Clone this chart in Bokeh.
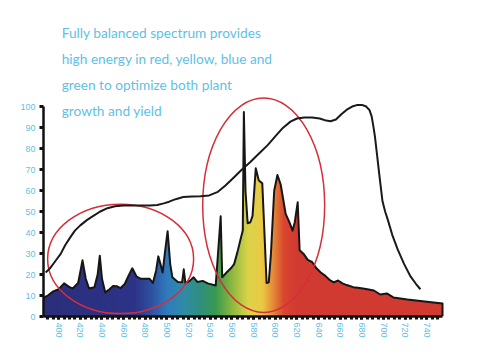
import numpy as np
from bokeh.plotting import figure
from bokeh.models import Range1d, Label, SingleIntervalTicker, FixedTicker
from bokeh.embed import file_html
from bokeh.resources import INLINE

# ---- data ----
spec_x = [386, 390, 395, 400, 405, 410, 413, 418, 422, 425, 428, 433, 436, 438, 440, 443,
          447, 450, 454, 457, 461, 465, 468, 472, 476, 480, 484, 487, 490, 492, 494, 496,
          498, 500.6, 503, 505, 510, 514, 515.5, 517, 521, 524.6, 528, 533, 537.6, 545,
          549.6, 551, 555, 559, 562, 565, 568, 570, 571, 572.5, 574.5, 577, 579, 582,
          584.7, 587, 588, 590, 592, 594, 596, 599, 602, 605, 609.6, 613, 616, 618, 620.7,
          622.5, 626, 630, 634, 638, 642, 646, 650, 654, 658, 662, 666, 672, 678, 685,
          691, 697, 703, 709, 722, 740, 754.4]
spec_y = [9, 10, 12, 13, 15.8, 14, 13.4, 16, 26.8, 18, 13.4, 14, 20, 29, 18, 11.5,
          13, 14.5, 14.4, 13.5, 15.5, 20, 23, 19, 18, 18, 18, 16, 22, 28.7, 25, 21,
          30, 40.7, 25, 18.7, 16.5, 16.3, 22.5, 16, 17, 18.7, 16.5, 17, 15.8, 14.8,
          47.8, 18.7, 21, 23, 25, 30.6, 37, 41, 97.6, 60, 44.5, 45, 48, 70.8,
          65, 64, 63.6, 40, 16, 16.3, 30, 60, 67.5, 63, 49, 45, 41, 45, 54.5,
          31.6, 30, 27, 26, 23, 21, 19.5, 17.5, 16.3, 17.2, 15.8, 15, 14, 13.6, 13,
          12.4, 10.5, 11, 9.1, 8.1, 7, 6.2]

resp_x = [388, 392, 397, 402, 406, 411, 415, 420, 426, 432, 438, 445, 452, 460, 468,
          476, 484, 491, 497, 502, 508, 515, 523, 531, 539, 547, 554, 561, 569, 577,
          585, 593, 600, 607, 614, 620, 627, 634, 641, 647, 651, 656, 661, 666, 671,
          676, 680, 684, 687, 689, 690.5, 692, 694, 696, 699, 701.5, 704, 708, 713,
          719, 725, 730, 734]
resp_y = [21, 23, 26.5, 30, 34, 38, 41, 43.5, 46, 48, 50, 51.7, 52.6, 53, 53,
          53, 53, 53.2, 54, 54.8, 56, 57, 57.3, 57.4, 57.8, 59.5, 62.5, 66, 70, 73.7,
          77.8, 81.8, 86, 90, 93, 94.5, 95, 95, 94.5, 93.5, 93.2, 94, 96.5, 98.7, 100.2,
          101, 101, 100.2, 98.5, 95.5, 91, 86, 77, 68, 55, 50, 46, 39, 32,
          25, 19, 15.5, 13]

# highlighted regions (ellipses): centre x, centre y, width (nm), height
ell_x = [457.2, 589.3]
ell_y = [27.5, 53.1]
ell_w = [134.8, 112.6]
ell_h = [52.2, 102.4]

caption = ["Fully balanced spectrum provides",
           "high energy in red, yellow, blue and",
           "green to optimize both plant",
           "growth and yield"]

y_ticks = [0, 10, 20, 30, 40, 50, 60, 70, 80, 90, 100]

# ---- styling ----
BLUE_TXT = "#5fbfe6"
grad_stops = [(386, "#2a2e7c"), (470, "#2d3387"), (485, "#2f4f9f"), (500, "#2f7cbe"),
              (515, "#2f8ca8"), (530, "#2f8f80"), (545, "#3a9a52"), (560, "#8cb83e"),
              (575, "#dcd44a"), (588, "#ecca44"), (598, "#e58a38"), (608, "#d9472f"),
              (620, "#d23a31"), (760, "#d03a32")]

X0, XB = 386, 754.4          # data start / end of the axis
PXPERNM = 399 / (XB - X0)
FW = 404
X1 = X0 + FW / PXPERNM       # frame extends slightly past the spectrum
p = figure(frame_width=FW, frame_height=308,
           x_range=Range1d(X0, X1), y_range=Range1d(0, 147),
           output_backend="svg", toolbar_location=None,
           min_border_left=43, min_border_right=11, min_border_top=8, min_border_bottom=32)
p.outline_line_color = None
p.grid.visible = False
p.background_fill_color = "white"
p.border_fill_color = "white"

# gradient image
W, H = 1480, 4
wl = np.linspace(X0, XB, W)
sx = [s[0] for s in grad_stops]
def hexrgb(h):
    return int(h[1:3], 16), int(h[3:5], 16), int(h[5:7], 16)
rs = [hexrgb(s[1])[0] for s in grad_stops]
gs = [hexrgb(s[1])[1] for s in grad_stops]
bs = [hexrgb(s[1])[2] for s in grad_stops]
img = np.empty((H, W), dtype=np.uint32)
view = img.view(dtype=np.uint8).reshape((H, W, 4))
view[:, :, 0] = np.interp(wl, sx, rs).astype(np.uint8)[None, :]
view[:, :, 1] = np.interp(wl, sx, gs).astype(np.uint8)[None, :]
view[:, :, 2] = np.interp(wl, sx, bs).astype(np.uint8)[None, :]
view[:, :, 3] = 255
p.image_rgba(image=[img], x=X0, y=0, dw=XB - X0, dh=100)

# white mask above spectrum (extended a little past both ends)
mask_x = [X0 - 5] + spec_x + [spec_x[-1] + 0.01, X1 + 5]
mask_y = [spec_y[0]] + spec_y + [0, 0]
p.varea(x=mask_x, y1=mask_y, y2=100.5, fill_color="white")

# spectrum outline
p.line(x=spec_x + [spec_x[-1]], y=spec_y + [0], line_color="#161616", line_width=2,
       line_join="round")

# ellipses
p.ellipse(x=ell_x, y=ell_y, width=ell_w, height=ell_h, fill_color=None,
          line_color="#d42f3a", line_width=1.5)

# response curve
p.line(x=resp_x, y=resp_y, line_color="#1a1a1a", line_width=2, line_join="round")

# caption
base_y = [135.7, 123.3, 110.8, 98.4]
for t, yy in zip(caption, base_y):
    p.add_layout(Label(x=402.8, y=yy, text=t, text_font="Lato", text_font_size="13.7px",
                       text_color=BLUE_TXT, text_baseline="alphabetic"))

# axes
xa = p.xaxis[0]
xa.ticker = SingleIntervalTicker(interval=20, num_minor_ticks=4)
xa.bounds = (X0, XB)
xa.axis_line_width = 2.5
xa.axis_line_color = "#111111"
xa.major_tick_in = 0
xa.major_tick_out = 3
xa.minor_tick_in = 0
xa.minor_tick_out = 3
xa.major_tick_line_width = 3
xa.minor_tick_line_width = 3
xa.major_tick_line_color = "#111111"
xa.minor_tick_line_color = "#111111"
xa.major_label_orientation = "vertical"
xa.major_label_text_color = BLUE_TXT
xa.major_label_text_font = "Liberation Sans"
xa.major_label_text_font_size = "9px"
xa.major_label_standoff = 3

ya = p.yaxis[0]
ya.ticker = FixedTicker(ticks=y_ticks)
ya.bounds = (0, 100)
ya.axis_line_width = 2.5
ya.axis_line_color = "#111111"
ya.major_tick_in = 0
ya.major_tick_out = 4
ya.major_tick_line_width = 3
ya.major_tick_line_color = "#111111"
ya.minor_tick_line_color = None
ya.major_label_text_color = BLUE_TXT
ya.major_label_text_font = "Liberation Sans"
ya.major_label_text_font_size = "9px"
ya.major_label_standoff = 4

open("out.html", "w").write(file_html(p, INLINE))
